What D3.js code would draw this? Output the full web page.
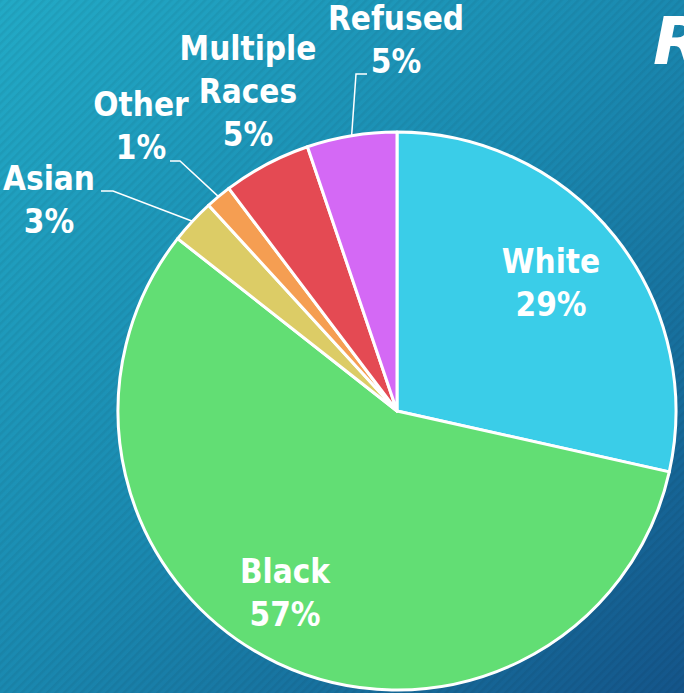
<!DOCTYPE html>
<html lang="en">
<head>
    <meta charset="utf-8">
    <title>Race</title>
    <script src="https://d3js.org/d3.v7.min.js"></script>
    <style>
        html, body { margin: 0; padding: 0; overflow: hidden; }
        svg { display: block; }
        .lbl { font-family: "DejaVu Sans Condensed", "DejaVu Sans", sans-serif; font-weight: bold; font-size: 33px; fill: #fff; }
    </style>
</head>
<body>
<div class="chart"></div>
<script>
    // data
    var categories = ["White", "Black", "Asian", "Other", "Multiple Races", "Refused"];
    var values = [28.5, 57.1, 2.6, 1.5, 5.1, 5.2];
    var pctLabels = ["29%", "57%", "3%", "1%", "5%", "5%"];
    var colors = ["#3acde8", "#62de74", "#dccc66", "#f59e52", "#e44a53", "#d469f5"];

    var width = 684, height = 693;
    var cx = 397, cy = 411, radius = 279;

    // label placement (x centre, first baseline, leader elbow)
    var labelLayout = [
        { x: 551, y: 273, lines: ["White"] },
        { x: 285, y: 583, lines: ["Black"] },
        { x: 49, y: 190, lines: ["Asian"], elbow: [[101, 191], [113, 191]] },
        { x: 141, y: 116, lines: ["Other"], elbow: [[170, 161], [180, 161]] },
        { x: 248, y: 60, lines: ["Multiple", "Races"] },
        { x: 396, y: 30, lines: ["Refused"], elbow: [[367, 74], [356, 74]] }
    ];

    var svg = d3.select("div.chart").append("svg")
        .attr("width", width)
        .attr("height", height);

    var defs = svg.append("defs");
    var grad = defs.append("linearGradient")
        .attr("id", "bg")
        .attr("x1", "0").attr("y1", "0")
        .attr("x2", "1").attr("y2", "1");
    grad.append("stop").attr("offset", "0").attr("stop-color", "#22aac6");
    grad.append("stop").attr("offset", "0.5").attr("stop-color", "#1a89b0");
    grad.append("stop").attr("offset", "1").attr("stop-color", "#14558a");

    var pat = defs.append("pattern")
        .attr("id", "stripes")
        .attr("width", 6).attr("height", 6)
        .attr("patternUnits", "userSpaceOnUse")
        .attr("patternTransform", "rotate(45)");
    pat.append("rect")
        .attr("width", 2.5).attr("height", 6)
        .attr("fill", "rgba(0,0,0,0.05)");

    svg.append("rect").attr("width", width).attr("height", height).attr("fill", "url(#bg)");
    svg.append("rect").attr("width", width).attr("height", height).attr("fill", "url(#stripes)");

    // title, cut off by the edge like the slide
    svg.append("text")
        .attr("x", 653).attr("y", 64)
        .attr("font-family", "DejaVu Sans, sans-serif")
        .attr("font-weight", "bold")
        .attr("font-style", "italic")
        .attr("font-size", 66)
        .attr("fill", "#fff")
        .text("Race");

    var pie = d3.pie().sort(null).value(function(d) { return d; });
    var arcs = pie(values);

    var arc = d3.arc().innerRadius(0).outerRadius(radius);

    var g = svg.append("g").attr("transform", "translate(" + cx + "," + cy + ")");

    g.selectAll("path")
        .data(arcs)
        .enter()
        .append("path")
        .attr("d", arc)
        .attr("fill", function(d, i) { return colors[i]; })
        .attr("stroke", "#fff")
        .attr("stroke-width", 3)
        .attr("stroke-linejoin", "round");

    // leader lines
    arcs.forEach(function(d, i) {
        var lay = labelLayout[i];
        if (!lay.elbow) return;
        var mid = (d.startAngle + d.endAngle) / 2;
        var px = cx + radius * Math.sin(mid);
        var py = cy - radius * Math.cos(mid);
        var pts = lay.elbow.concat([[px, py]]);
        svg.append("path")
            .attr("d", d3.line()(pts))
            .attr("fill", "none")
            .attr("stroke", "#fff")
            .attr("stroke-width", 1.5);
    });

    // labels
    var lineH = 43;
    labelLayout.forEach(function(lay, i) {
        var t = svg.append("text")
            .attr("class", "lbl")
            .attr("text-anchor", "middle");
        var rows = lay.lines.concat([pctLabels[i]]);
        rows.forEach(function(r, j) {
            t.append("tspan")
                .attr("x", lay.x)
                .attr("y", lay.y + j * lineH)
                .text(r);
        });
    });
</script>
</body>
</html>
